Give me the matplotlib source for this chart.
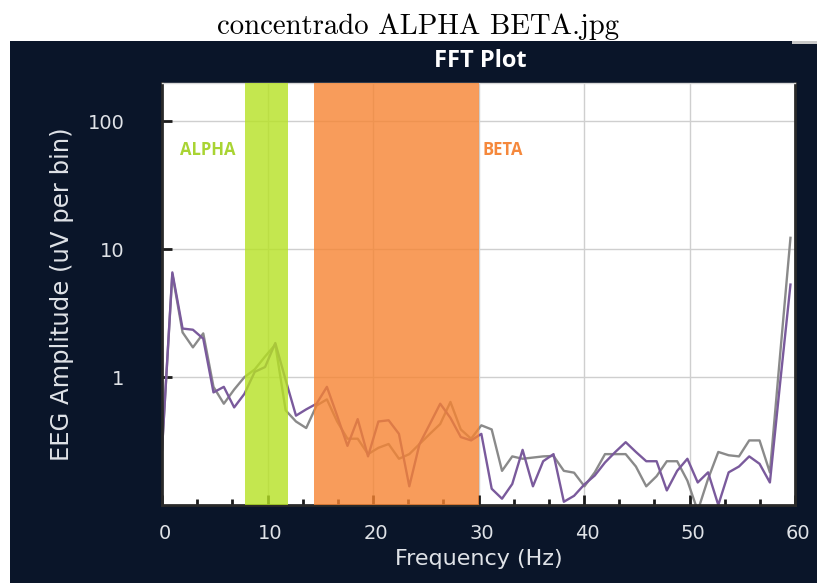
import matplotlib
matplotlib.use("Agg")
import matplotlib.pyplot as plt
from matplotlib.patches import Rectangle
from matplotlib.ticker import MultipleLocator, NullLocator, FixedLocator
from matplotlib.transforms import ScaledTranslation

# ---- data ----
freqs = [0.0, 0.98, 1.95, 2.93, 3.91, 4.88, 5.86, 6.84, 7.81, 8.79,
         9.77, 10.74, 11.72, 12.70, 13.67, 14.65, 15.63, 16.60, 17.58, 18.55,
         19.53, 20.51, 21.48, 22.46, 23.44, 24.41, 25.39, 26.37, 27.34, 28.32,
         29.30, 30.27, 31.25, 32.23, 33.20, 34.18, 35.16, 36.13, 37.11, 38.09,
         39.06, 40.04, 41.02, 41.99, 42.97, 43.95, 44.92, 45.90, 46.88, 47.85,
         48.83, 49.80, 50.78, 51.76, 52.73, 53.71, 54.69, 55.66, 56.64, 57.62,
         58.59, 59.57]
purple_amp = [0.27, 6.6, 2.4, 2.35, 2.0, 0.76, 0.84, 0.58, 0.74, 1.1,
              1.2, 1.85, 0.95, 0.50, 0.56, 0.62, 0.84, 0.50, 0.29, 0.47,
              0.24, 0.45, 0.46, 0.36, 0.14, 0.30, 0.43, 0.62, 0.48, 0.34,
              0.32, 0.36, 0.134, 0.112, 0.146, 0.27, 0.14, 0.22, 0.25, 0.106,
              0.118, 0.145, 0.17, 0.215, 0.26, 0.31, 0.26, 0.22, 0.22, 0.13,
              0.185, 0.23, 0.15, 0.18, 0.10, 0.18, 0.20, 0.24, 0.21, 0.15,
              0.9, 5.3]
gray_amp = [0.27, 6.4, 2.24, 1.71, 2.2, 0.84, 0.62, 0.8, 1.0, 1.15,
            1.45, 1.8, 0.55, 0.45, 0.40, 0.60, 0.67, 0.45, 0.33, 0.33,
            0.25, 0.28, 0.30, 0.23, 0.25, 0.30, 0.36, 0.43, 0.64, 0.39,
            0.33, 0.42, 0.39, 0.185, 0.24, 0.23, 0.235, 0.24, 0.242, 0.185,
            0.179, 0.14, 0.18, 0.25, 0.25, 0.25, 0.20, 0.14, 0.168, 0.22,
            0.22, 0.155, 0.09, 0.16, 0.26, 0.245, 0.24, 0.32, 0.32, 0.18,
            1.5, 12.3]
alpha_band = (7.9, 11.9)
beta_band = (14.4, 30.0)
band_names = ["ALPHA", "BETA"]
x_ticks = [0, 10, 20, 30, 40, 50, 60]
x_labels = ["0", "10", "20", "30", "40", "50", "60"]
y_ticks = [1, 10, 100]
y_labels = ["1", "10", "100"]

W, H = 817, 583
fig = plt.figure(figsize=(W / 100, H / 100), dpi=100, facecolor="white")

navy = "#0a1529"
fig.add_artist(Rectangle((10 / W, 0), (W - 10) / W, (H - 41) / H,
                         transform=fig.transFigure, facecolor=navy,
                         edgecolor="none", zorder=0))
fig.add_artist(Rectangle((792 / W, (H - 44) / H), 25 / W, 3 / H,
                         transform=fig.transFigure, facecolor="#c9c9c9",
                         edgecolor="none", zorder=1))

fig.text(418 / W, 1 - 27 / H, "concentrado ALPHA BETA.jpg", family="cmr10",
         fontsize=20.7, ha="center", va="center", color="black")

left, right, top, bottom = 162, 795, 83, 505
ax = fig.add_axes([left / W, 1 - bottom / H, (right - left) / W, (bottom - top) / H])
ax.set_facecolor("white")
ax.set_zorder(2)

ui_font = "DejaVu Sans"
light = "#dfe2e7"

ax.set_xlim(0, 60)
ax.set_yscale("log")
ax.set_ylim(0.1, 200)

ax.plot(freqs, gray_amp, color="#8a8a8a", lw=1.7, zorder=2)
ax.plot(freqs, purple_amp, color="#7a5a9c", lw=1.7, zorder=2.1)

ax.axvspan(*alpha_band, color="#b6e223", alpha=0.8, lw=0, zorder=3)
ax.axvspan(*beta_band, color="#f78432", alpha=0.8, lw=0, zorder=3)

ax.text(1.7, 60, band_names[0], color="#a9d433", fontsize=12, fontweight="bold",
        family="Open Sans", va="center", ha="left", zorder=4)
ax.text(30.4, 60, band_names[1], color="#f5883c", fontsize=12, fontweight="bold",
        family="Open Sans", va="center", ha="left", zorder=4)

ax.grid(False)
for gx in x_ticks[1:-1]:
    ax.axvline(gx, color="#cfcfcf", lw=1, zorder=1)
for gy in y_ticks:
    ax.axhline(gy, color="#cfcfcf", lw=1, zorder=1)

ax.xaxis.set_major_locator(FixedLocator(x_ticks))
ax.set_xticklabels(x_labels)
ax.xaxis.set_minor_locator(MultipleLocator(10 / 3))
ax.yaxis.set_major_locator(FixedLocator(y_ticks))
ax.set_yticklabels(y_labels)
ax.yaxis.set_minor_locator(NullLocator())

ax.tick_params(axis="x", which="major", direction="in", length=7, width=2,
               color="#1c1c1c", pad=14, labelsize=14, labelcolor=light)
ax.tick_params(axis="x", which="minor", direction="in", length=4.5, width=2,
               color="#1c1c1c")
ax.tick_params(axis="y", which="major", direction="in", length=7, width=2,
               color="#1c1c1c", pad=27, labelsize=14, labelcolor=light)
for lab in ax.get_xticklabels() + ax.get_yticklabels():
    lab.set_family(ui_font)
for lab in ax.get_xticklabels():
    lab.set_transform(lab.get_transform() + ScaledTranslation(3 / 100, 0, fig.dpi_scale_trans))

for s in ["left", "bottom", "right"]:
    ax.spines[s].set_color("#2a2a2a")
    ax.spines[s].set_linewidth(2)
ax.spines["top"].set_color("#d8d8d8")
ax.spines["top"].set_linewidth(1)

ax.set_xlabel("Frequency (Hz)", family=ui_font, fontsize=16, color=light, labelpad=4)
ax.set_ylabel("EEG Amplitude (uV per bin)", family=ui_font, fontsize=17.5, color=light, labelpad=10)

fig.text(480 / W, 1 - 61 / H, "FFT Plot", family="Open Sans", fontweight="bold",
         fontsize=17, color="white", ha="center", va="center")

fig.savefig("out.png", dpi=100, facecolor="white")
